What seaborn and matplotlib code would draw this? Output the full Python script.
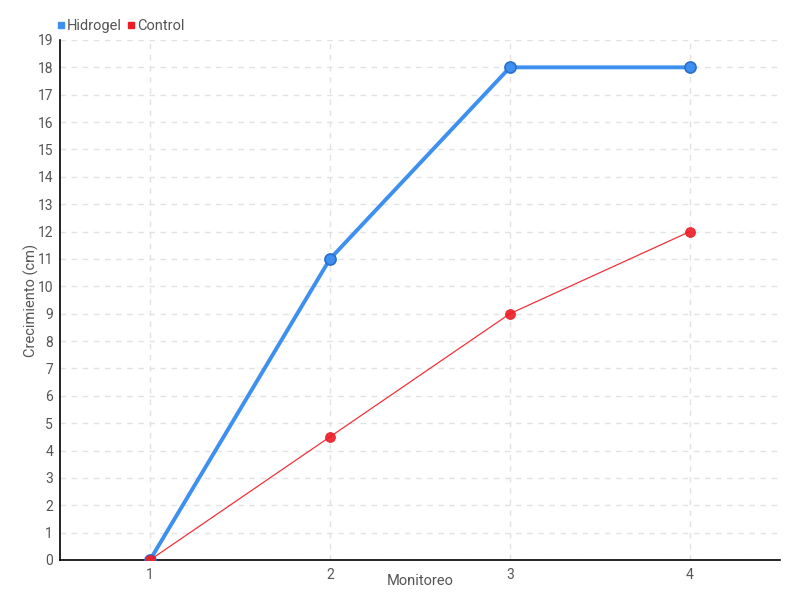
import numpy as np
import pandas as pd
import matplotlib
matplotlib.use("Agg")
import matplotlib.pyplot as plt
from matplotlib.lines import Line2D
import seaborn as sns

# Data
monitoreo = [1, 2, 3, 4]
hidrogel = [0, 11, 18, 18]
control = [0, 4.5, 9, 12]
y_ticks = list(range(0, 20))

sns.set_style("white")
plt.rcParams["font.family"] = ["Roboto", "DejaVu Sans"]

df = pd.DataFrame({
    "Monitoreo": monitoreo * 2,
    "Crecimiento": hidrogel + control,
    "Serie": ["Hidrogel"] * 4 + ["Control"] * 4,
})

BLUE = "#3d8ff0"
RED = "#ee1c25"
TXT = "#555555"

fig = plt.figure(figsize=(8, 6), dpi=100)
ax = fig.add_axes([0.075, 0.0667, 0.9, 0.8667])

sns.lineplot(data=df[df["Serie"] == "Hidrogel"], x="Monitoreo", y="Crecimiento",
             color=BLUE, linewidth=2.8, marker="o", markersize=8,
             markeredgecolor="#2a6fc9", markeredgewidth=1.2, ax=ax, zorder=3)
sns.lineplot(data=df[df["Serie"] == "Control"], x="Monitoreo", y="Crecimiento",
             color=RED, linewidth=0.9, alpha=0.9, marker="o", markersize=7,
             markeredgecolor=RED, ax=ax, zorder=4)

ax.set_xlim(0.5, 4.5)
ax.set_ylim(0, 19)
ax.set_xticks(monitoreo)
ax.set_yticks(y_ticks)
ax.tick_params(axis="both", labelsize=10, colors=TXT, length=4, width=1, pad=2)
ax.tick_params(axis="y", direction="inout", length=6, color="black")
ax.tick_params(axis="x", direction="out", length=4, color="black")

ax.grid(True, linestyle=(0, (4, 4)), color="#e2e2e2", linewidth=1)
for side in ["top", "right"]:
    ax.spines[side].set_visible(False)
for side in ["left", "bottom"]:
    ax.spines[side].set_color("black")
    ax.spines[side].set_linewidth(1.2)

ax.set_xlabel("Monitoreo", fontsize=10.5, color=TXT)
ax.set_ylabel("Crecimiento (cm)", fontsize=10.5, color=TXT)
ax.xaxis.set_label_coords(0.5, -0.026)
ax.yaxis.set_label_coords(-0.029, 0.5)

handles = [
    Line2D([], [], marker="s", linestyle="", color=BLUE, markersize=4.5),
    Line2D([], [], marker="s", linestyle="", color=RED, markersize=4.5),
]
fig.legend(handles, ["Hidrogel", "Control"], loc="upper left",
           bbox_to_anchor=(0.052, 0.99), ncol=2, frameon=False,
           handletextpad=0.0, columnspacing=0.3, handlelength=0.8,
           fontsize=10.5, labelcolor=TXT)

fig.savefig("out.png", dpi=100)
